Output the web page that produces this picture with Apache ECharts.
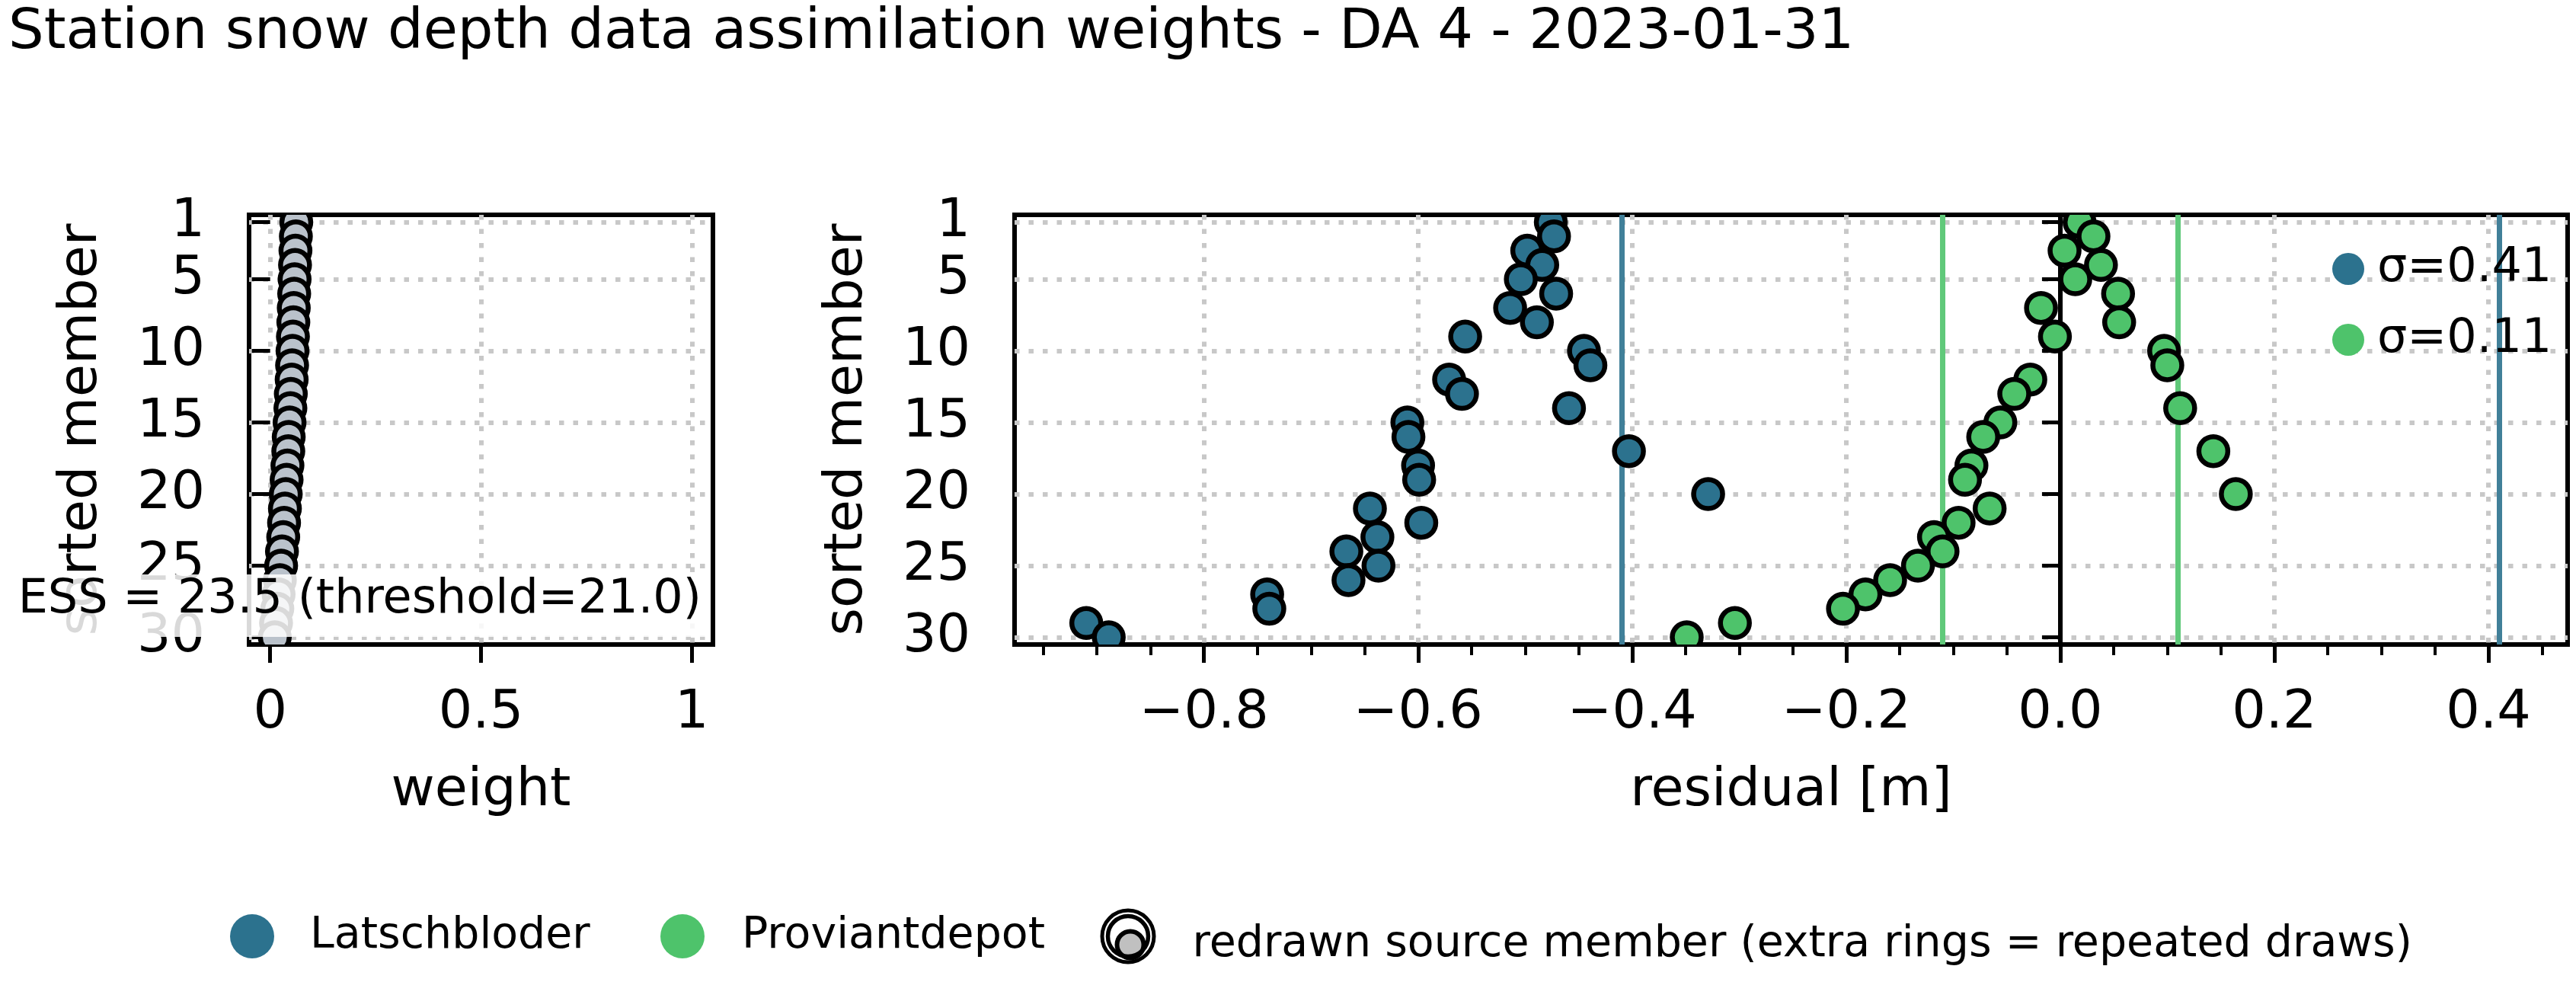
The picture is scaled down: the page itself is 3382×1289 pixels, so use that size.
<!DOCTYPE html>
<html><head><meta charset="utf-8">
<script src="https://cdn.jsdelivr.net/npm/echarts@6/dist/echarts.min.js"></script>
<style>html,body{margin:0;padding:0;background:#fff}#c{width:3382px;height:1289px}</style>
</head><body><div id="c"></div>
<script>
// ---- data ----
const titleText = 'Station snow depth data assimilation weights - DA 4 - 2023-01-31';
const members = [1,2,3,4,5,6,7,8,9,10,11,12,13,14,15,16,17,18,19,20,21,22,23,24,25,26,27,28,29,30];
const weights = [0.062,0.061,0.060,0.059,0.058,0.057,0.056,0.055,0.054,0.053,0.052,0.051,0.049,0.048,0.046,0.044,0.043,0.041,0.039,0.037,0.035,0.033,0.031,0.028,0.026,0.023,0.020,0.017,0.014,0.011];
const resLatschbloder = [-0.476,-0.473,-0.498,-0.484,-0.504,-0.471,-0.514,-0.489,-0.556,-0.445,-0.439,-0.571,-0.559,-0.459,-0.610,-0.609,-0.403,-0.600,-0.599,-0.329,-0.645,-0.597,-0.638,-0.667,-0.637,-0.665,-0.741,-0.739,-0.910,-0.889];
const resProviantdepot = [0.018,0.031,0.004,0.038,0.014,0.054,-0.018,0.055,-0.005,0.097,0.100,-0.028,-0.043,0.112,-0.056,-0.072,0.143,-0.083,-0.089,0.164,-0.066,-0.095,-0.118,-0.110,-0.133,-0.159,-0.182,-0.203,-0.304,-0.349];
const sigmaLatschbloder = 0.408;
const sigmaProviantdepot = 0.111;
const essValue = 23.5, essThreshold = 21.0;
const stationNames = ['Latschbloder', 'Proviantdepot'];
const redrawLabel = 'redrawn source member (extra rings = repeated draws)';
const memberTicks = [1,5,10,15,20,25,30];
const weightTicks = [0,0.5,1];
const residualTicks = [-0.8,-0.6,-0.4,-0.2,0,0.2,0.4];
const residualMinorTicks = [-0.95,-0.9,-0.85,-0.8,-0.75,-0.7,-0.65,-0.6,-0.55,-0.5,-0.45,-0.4,-0.35,-0.3,-0.25,-0.2,-0.15,-0.1,-0.05,0,0.05,0.1,0.15,0.2,0.25,0.3,0.35,0.4,0.45];

// ---- style ----
const FONT = 'DejaVu Sans';
const BLUE = '#2c728e', BLUE_LINE = '#418099';
const GREEN = '#4ec36b', GREEN_LINE = '#60c97a';
const GREYFILL = '#bac2cb';
const GRIDLINE = {color:'#c8c8c8', width:6, type:[6.5,12]};
const minus = s => String(s).replace('-', '\u2212');

function dotSeries(name, xi, yi, xs, fill, z){
  return {
    type:'custom', name, xAxisIndex:xi, yAxisIndex:yi, clip:true, z,
    itemStyle:{color:fill, borderColor:'#000', borderWidth:6, opacity:1},
    encode:{x:0, y:1},
    data: xs.map((v,i)=>[v, members[i]]),
    renderItem(params, api){
      const p = api.coord([api.value(0), api.value(1)]);
      return {type:'circle', shape:{cx:p[0], cy:p[1], r:19}, style:{fill, stroke:'#000', lineWidth:6.5}};
    }
  };
}
function vlineSeries(name, values, color, legendColor, width){
  return {
    type:'scatter', name, xAxisIndex:1, yAxisIndex:1, data:[], itemStyle:{color:legendColor, opacity:1}, z:3,
    markLine:{silent:true, z:3, symbol:['none','none'], label:{show:false}, animation:false,
      lineStyle:{color, width, type:'solid', opacity:1},
      emphasis:{disabled:true},
      data: values.map(v=>({xAxis:v}))}
  };
}
const yAxisCommon = (gi) => ({
  type:'value', gridIndex:gi, min:0.5, max:30.5, inverse:true,
  name:'sorted member', nameLocation:'middle', nameGap:184, nameRotate:90,
  nameTextStyle:{fontSize:70, color:'#000', fontFamily:FONT},
  axisLine:{show:false},
  axisTick:{show:true, customValues:memberTicks, length:24, lineStyle:{color:'#000', width:5}},
  axisLabel:{customValues:memberTicks, fontSize:70, color:'#000', margin:58, fontFamily:FONT},
  splitLine:{show:true, lineStyle:GRIDLINE}
});
const legendText = {fontSize:57, color:'#000', fontFamily:FONT};

const option = {
  animation:false,
  backgroundColor:'#fff',
  textStyle:{fontFamily:FONT},
  title:{text:titleText, left:11, top:7, padding:0, textStyle:{fontSize:73.5, fontWeight:'normal', color:'#000', fontFamily:FONT}},
  grid:[
    {left:327, top:282, width:609, height:564, show:true, borderColor:'#000', borderWidth:6, backgroundColor:'transparent'},
    {left:1332, top:282, width:2039, height:564, show:true, borderColor:'#000', borderWidth:6, backgroundColor:'transparent'}
  ],
  xAxis:[
    {type:'value', gridIndex:0, min:-0.05, max:1.05, position:'bottom',
     name:'weight', nameLocation:'middle', nameGap:158, nameTextStyle:{fontSize:70, color:'#000', fontFamily:FONT},
     axisLine:{show:false},
     axisTick:{show:true, customValues:weightTicks, length:24, lineStyle:{color:'#000', width:5}},
     axisLabel:{customValues:weightTicks, fontSize:70, color:'#000', margin:56, formatter:v=>String(v)},
     splitLine:{show:true, lineStyle:GRIDLINE}},
    {type:'value', gridIndex:1, min:-0.977, max:0.474, position:'bottom',
     name:'residual [m]', nameLocation:'middle', nameGap:158, nameTextStyle:{fontSize:70, color:'#000', fontFamily:FONT},
     axisLine:{show:false},
     axisTick:{show:true, customValues:residualTicks, length:24, lineStyle:{color:'#000', width:5}},
     axisLabel:{customValues:residualTicks, fontSize:70, color:'#000', margin:56, formatter:v=>minus(v.toFixed(1))},
     splitLine:{show:true, lineStyle:GRIDLINE}},
    {type:'value', gridIndex:1, min:-0.977, max:0.474, position:'bottom', offset:0,
     axisLine:{show:false},
     axisTick:{show:true, customValues:residualMinorTicks, length:14, lineStyle:{color:'#000', width:4}},
     axisLabel:{show:false},
     splitLine:{show:false}}
  ],
  yAxis:[ yAxisCommon(0), yAxisCommon(1) ],
  legend:[
    {data:[{name:stationNames[0], icon:'circle', itemStyle:{borderWidth:0}}], left:302, top:1200, padding:0, itemWidth:58, itemHeight:58, textStyle:Object.assign({padding:[0,0,0,42]}, legendText)},
    {data:[{name:stationNames[1], icon:'circle', itemStyle:{borderWidth:0}}], left:867, top:1200, padding:0, itemWidth:58, itemHeight:58, textStyle:Object.assign({padding:[0,0,0,44]}, legendText)},
    {data:[{name:redrawLabel, icon:'circle', itemStyle:{color:'#c0c0c0', borderColor:'#000', borderWidth:6}}], left:1463.5, top:1211.5, padding:0, itemWidth:35, itemHeight:35, textStyle:Object.assign({padding:[0,0,0,59]}, legendText)},
    {data:[{name:'\u03c3=' + sigmaLatschbloder.toFixed(2), icon:'circle', itemStyle:{color:BLUE, opacity:1}}, {name:'\u03c3=' + sigmaProviantdepot.toFixed(2), icon:'circle', itemStyle:{color:GREEN, opacity:1}}],
     orient:'vertical', left:3062, top:322, padding:0, itemWidth:42, itemHeight:42, itemGap:31, textStyle:{fontSize:62, color:'#000', fontFamily:FONT, padding:[0,0,0,12]}}
  ],
  series:[
    dotSeries(redrawLabel, 0, 0, weights, GREYFILL, 10),
    vlineSeries('\u03c3=' + sigmaLatschbloder.toFixed(2), [-sigmaLatschbloder, sigmaLatschbloder], BLUE_LINE, BLUE, 7),
    vlineSeries('\u03c3=' + sigmaProviantdepot.toFixed(2), [-sigmaProviantdepot, sigmaProviantdepot], GREEN_LINE, GREEN, 7),
    vlineSeries('_zero', [0], '#000', '#000', 6),
    dotSeries(stationNames[0], 1, 1, resLatschbloder, BLUE, 10),
    dotSeries(stationNames[1], 1, 1, resProviantdepot, GREEN, 11)
  ],
  graphic:[
    {type:'text', z:100, silent:true, style:{text:'ESS = ' + essValue.toFixed(1) + ' (threshold=' + essThreshold.toFixed(1) + ')',
      x:929, y:836, align:'right', verticalAlign:'bottom', font:'62px "DejaVu Sans"', fill:'#000',
      backgroundColor:'rgba(255,255,255,0.85)', padding:[3,8,17,12]}},
    {type:'circle', z:100, silent:true, shape:{cx:1481, cy:1229, r:26.5}, style:{fill:'none', stroke:'#000', lineWidth:5.5}},
    {type:'circle', z:100, silent:true, shape:{cx:1481, cy:1229, r:34}, style:{fill:'none', stroke:'#000', lineWidth:5}}
  ]
};
const chart = echarts.init(document.getElementById('c'), null, {renderer:'canvas'});
chart.setOption(option);
</script></body></html>
